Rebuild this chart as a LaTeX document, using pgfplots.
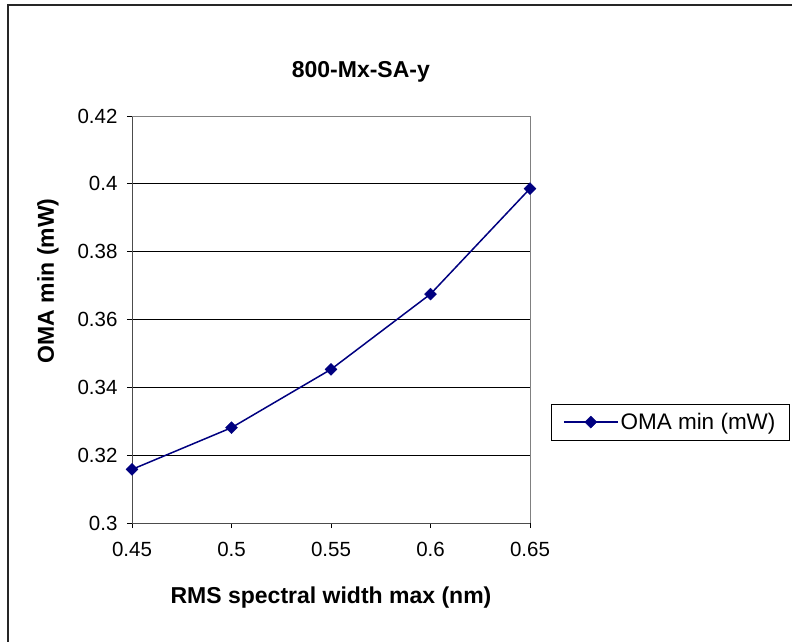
\documentclass[border=0pt]{standalone}
\usepackage{pgfplots}
\pgfplotsset{compat=1.18}
\usepackage{fontspec}
\setmainfont{Liberation Sans}
\definecolor{navyline}{RGB}{0,0,128}
\begin{document}
\begin{tikzpicture}[x=1pt,y=1pt]
\useasboundingbox (0,0) rectangle (792,642);
\fill[white] (0,0) rectangle (792,642);
\draw[line width=1.6pt,black!85] (8,0) -- (8,637) -- (792,637);
\begin{axis}[
  at={(132pt,119pt)}, anchor=south west,
  scale only axis, width=398pt, height=407pt,
  xmin=0.45, xmax=0.65, ymin=0.3, ymax=0.42,
  xtick={0.45,0.5,0.55,0.6,0.65},
  ytick={0.3,0.32,0.34,0.36,0.38,0.4,0.42},
  xticklabels={0.45,0.5,0.55,0.6,0.65},
  yticklabels={0.3,0.32,0.34,0.36,0.38,0.4,0.42},
  axis lines=left,
  axis line style={-, black!70, line width=0.9pt},
  tick align=outside, major tick length=5pt,
  tick style={black, line width=0.8pt},
  ymajorgrids, major grid style={black, line width=0.8pt},
  ticklabel style={font=\fontsize{20.5}{24}\selectfont},
  xticklabel style={yshift=-11pt},
  yticklabel style={xshift=-6pt},
  /pgf/number format/assume math mode=true,
  title={800-Mx-SA-y},
  title style={at={(axis description cs:0.575,1.093)}, anchor=center, font=\bfseries\fontsize{23}{27}\selectfont},
  xlabel={RMS spectral width max (nm)},
  xlabel style={at={(axis description cs:0.5,-0.184)}, anchor=center, font=\bfseries\fontsize{23}{27}\selectfont},
  ylabel={OMA min (mW)},
  ylabel style={at={(axis description cs:-0.211,0.595)}, anchor=center, font=\bfseries\fontsize{23}{27}\selectfont},
  legend style={at={(axis description cs:1.653,0.248)}, anchor=east, draw=black, line width=0.8pt,
    font=\fontsize{22.5}{26}\selectfont, inner xsep=12pt, inner ysep=7pt},
  legend cell align=left,
  legend image code/.code={\draw[mark repeat=2,mark phase=2,#1] plot coordinates {(0pt,0pt) (27pt,0pt) (54pt,0pt)};},
  clip=false,
]
\draw[gray, line width=0.9pt] (rel axis cs:0,1) -- (rel axis cs:1,1) -- (rel axis cs:1,0);
\addplot[navyline, line width=1.5pt, mark=square*, mark size=4.2pt,
  mark options={rotate=45, fill=navyline, draw=navyline, line width=0.5pt}]
  coordinates {(0.45,0.3158) (0.5,0.3281) (0.55,0.3453) (0.6,0.3675) (0.65,0.3986)};
\addlegendentry{OMA min (mW)}
\end{axis}
\end{tikzpicture}
\end{document}
